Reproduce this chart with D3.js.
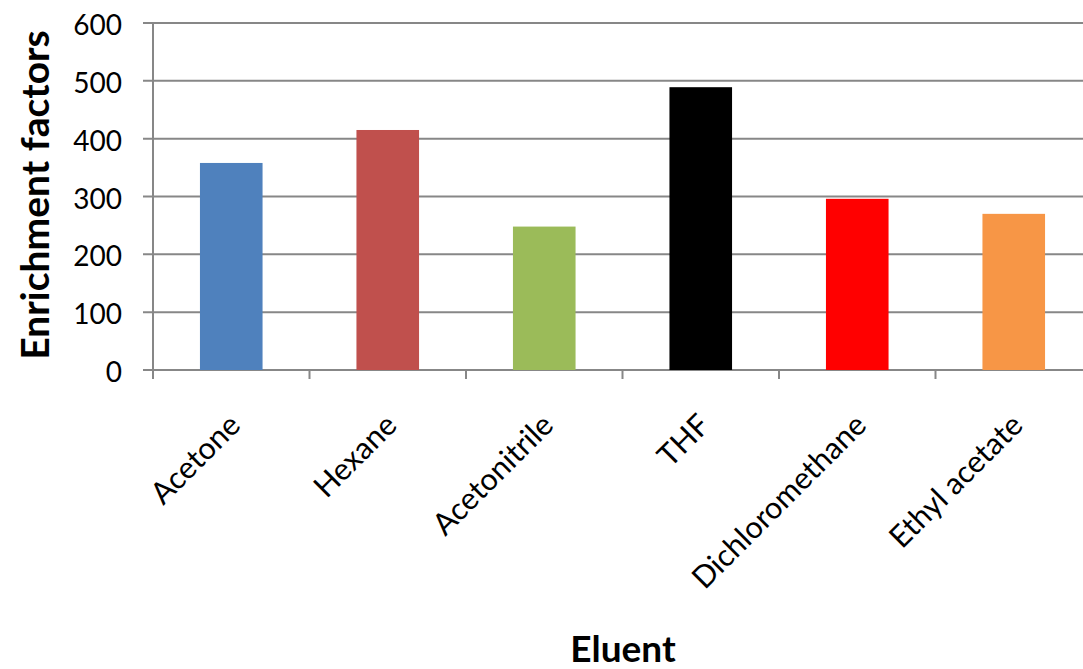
<!DOCTYPE html>
<html>
<head>
<meta charset="utf-8">
<script src="https://cdn.jsdelivr.net/npm/d3@7"></script>
<style>
  html, body { margin: 0; padding: 0; background: #fff; }
  svg { display: block; font-family: Lato, "Open Sans", sans-serif; }
</style>
</head>
<body>
<svg id="chart" width="1083" height="669"></svg>
<script>
// Eluent categories and their enrichment factors
const eluents = ["Acetone", "Hexane", "Acetonitrile", "THF", "Dichloromethane", "Ethyl acetate"];
const enrichment = [358, 415, 248, 489, 296, 270];
const barColors = ["#4F81BD", "#C0504D", "#9BBB59", "#000000", "#FF0000", "#F79646"];
const yTicks = [0, 100, 200, 300, 400, 500, 600];
const xTitle = "Eluent";
const yTitle = "Enrichment factors";

const svg = d3.select("#chart");
const plot = { left: 153, right: 1092, top: 23, bottom: 370 };
const gridColor = "#878787";

const x = d3.scaleBand().domain(eluents).range([plot.left, plot.right]).padding(0);
const y = d3.scaleLinear().domain([0, 600]).range([plot.bottom, plot.top]);
const barFrac = 0.4;

// Horizontal gridlines with short outward ticks on the left
svg.append("g")
  .selectAll("line")
  .data(yTicks)
  .join("line")
  .attr("x1", plot.left - 10)
  .attr("x2", plot.right)
  .attr("y1", d => y(d))
  .attr("y2", d => y(d))
  .attr("stroke", gridColor)
  .attr("stroke-width", 2);

// Y tick labels
svg.append("g")
  .selectAll("text")
  .data(yTicks)
  .join("text")
  .attr("x", 122)
  .attr("y", d => y(d) + 12)
  .attr("text-anchor", "end")
  .attr("font-size", 28)
  .attr("fill", "#000")
  .text(d => d);

// Bars
svg.append("g")
  .selectAll("rect")
  .data(eluents)
  .join("rect")
  .attr("x", d => x(d) + x.bandwidth() * (1 - barFrac) / 2)
  .attr("width", x.bandwidth() * barFrac)
  .attr("y", (d, i) => y(enrichment[i]))
  .attr("height", (d, i) => y(0) - y(enrichment[i]))
  .attr("fill", (d, i) => barColors[i]);

// Vertical axis line
svg.append("line")
  .attr("x1", plot.left).attr("x2", plot.left)
  .attr("y1", plot.top).attr("y2", plot.bottom + 9)
  .attr("stroke", gridColor).attr("stroke-width", 2);

// Category boundary ticks below the baseline
const boundaries = eluents.map(d => x(d)).concat([plot.right]);
svg.append("g")
  .selectAll("line")
  .data(boundaries)
  .join("line")
  .attr("x1", d => d).attr("x2", d => d)
  .attr("y1", plot.bottom).attr("y2", plot.bottom + 9)
  .attr("stroke", gridColor).attr("stroke-width", 2);

// Rotated category labels
svg.append("g")
  .selectAll("text")
  .data(eluents)
  .join("text")
  .attr("transform", d => `translate(${x(d) + x.bandwidth() / 2 + 11},${427}) rotate(-45)`)
  .attr("text-anchor", "end")
  .attr("font-size", 30.5)
  .attr("fill", "#000")
  .text(d => d);

// Axis titles
svg.append("text")
  .attr("x", 623)
  .attr("y", 662)
  .attr("text-anchor", "middle")
  .attr("font-size", 37)
  .attr("font-weight", "bold")
  .text(xTitle);

svg.append("text")
  .attr("transform", "translate(49,195) rotate(-90)")
  .attr("text-anchor", "middle")
  .attr("font-size", 39)
  .attr("font-weight", "bold")
  .text(yTitle);
</script>
</body>
</html>
